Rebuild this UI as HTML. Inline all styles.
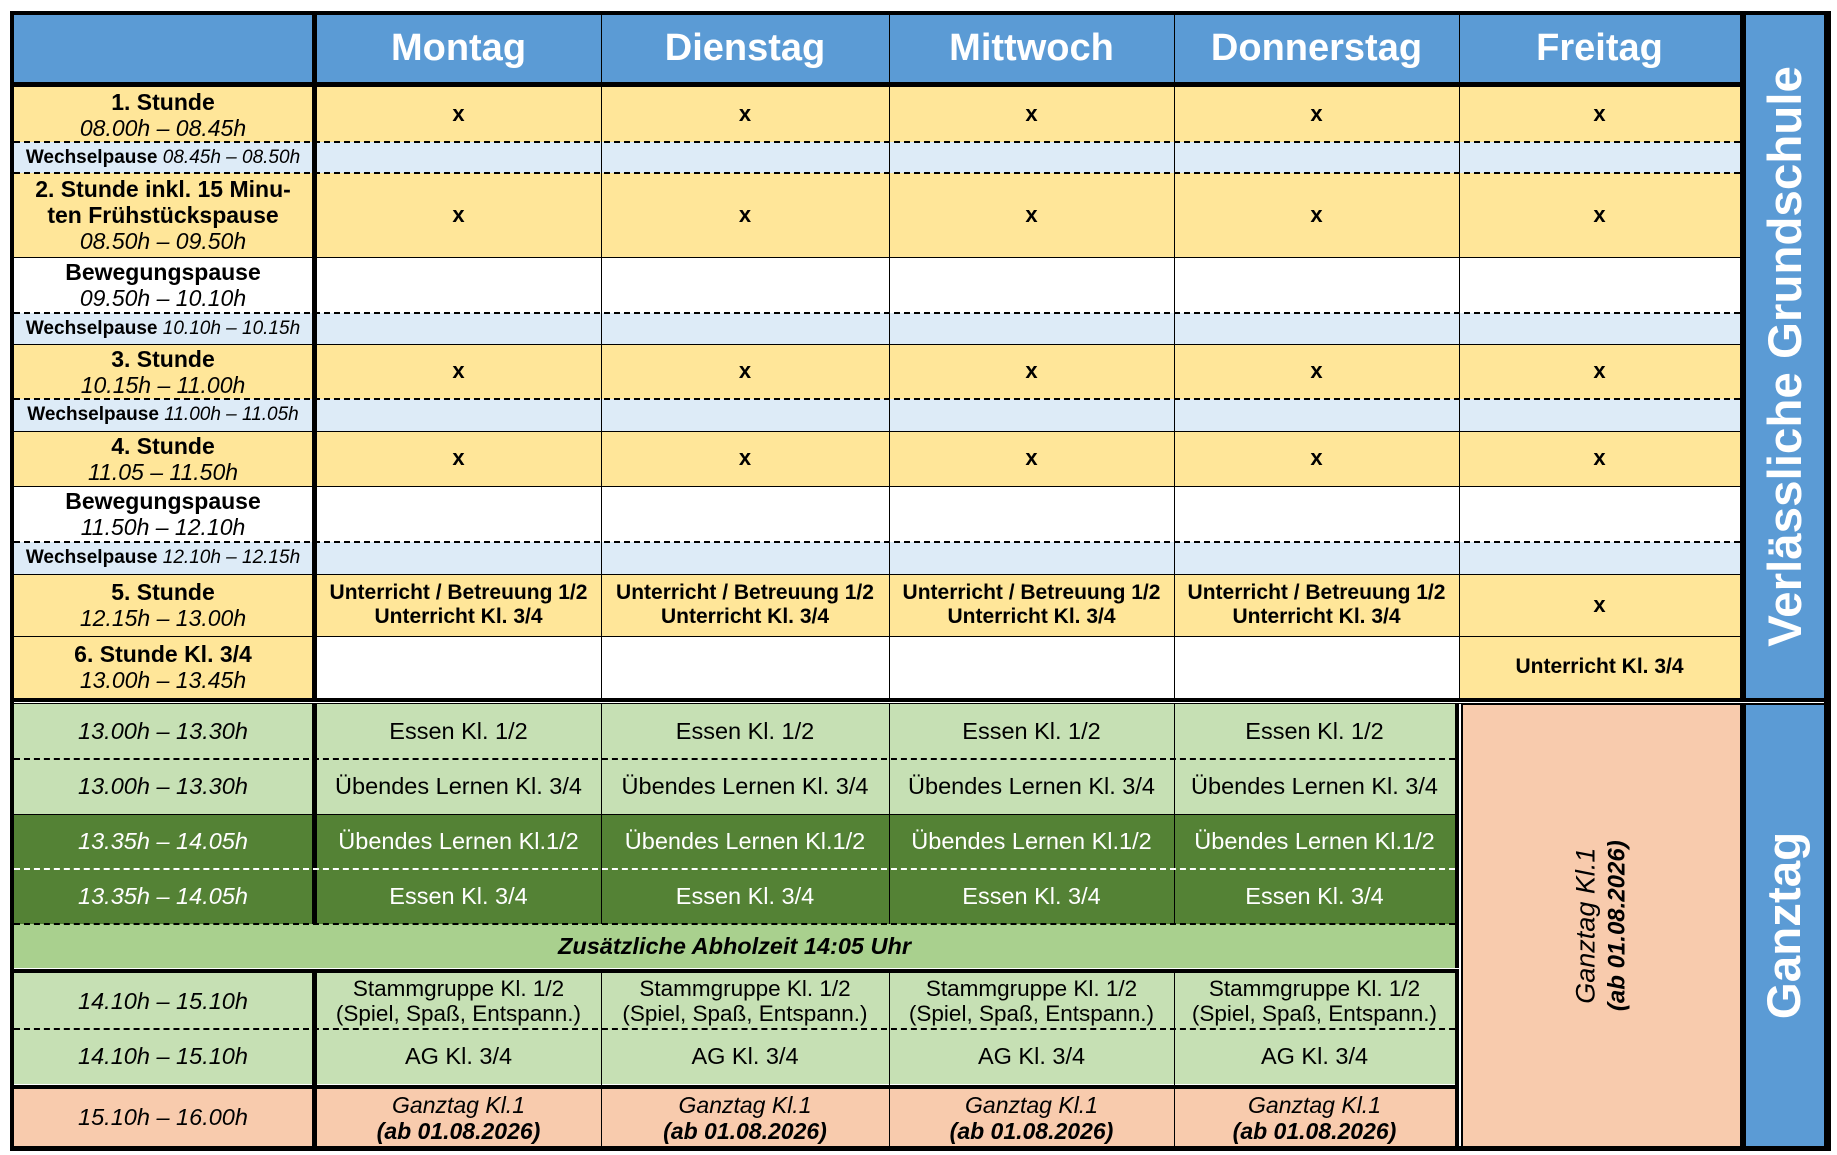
<!DOCTYPE html>
<html><head><meta charset="utf-8"><style>
*{margin:0;padding:0;box-sizing:border-box}
body{width:1837px;height:1155px;background:#fff;position:relative;overflow:hidden;font-family:"Liberation Sans",Arial,sans-serif;color:#000}
.a{position:absolute}
.c{position:absolute;display:flex;flex-direction:column;align-items:center;justify-content:center;text-align:center;line-height:1.13;white-space:nowrap}
.b{font-weight:bold}.i{font-style:italic}
.hd{color:#fff;font-weight:bold;font-size:38px}
.lb{font-size:23px}
.ws{font-size:19px}
.x{font-size:22px;font-weight:bold}
.g{font-size:23.5px}
.u{font-size:21px;font-weight:bold}
.dash{position:absolute;height:0;border-top:2px dashed #000}
.vl{position:absolute;width:1px;background:#000}
.hl{position:absolute;height:1px;background:#000}
.side{position:absolute;display:flex;align-items:center;justify-content:center;background:#5b9bd5}
.side span{transform:rotate(-90deg);color:#fff;font-weight:bold;font-size:47.5px;white-space:nowrap}
</style></head><body>
<div class="a" style="left:10px;top:11px;width:1821px;height:1140px;background:#000"></div>
<div class="a" style="left:14px;top:15px;width:1726px;height:67px;background:#5b9bd5"></div>
<div class="a" style="left:14px;top:87px;width:1726px;height:55px;background:#ffe699"></div>
<div class="a" style="left:14px;top:142px;width:1726px;height:31px;background:#ddebf7"></div>
<div class="a" style="left:14px;top:173px;width:1726px;height:84px;background:#ffe699"></div>
<div class="a" style="left:14px;top:257px;width:1726px;height:56px;background:#fff"></div>
<div class="a" style="left:14px;top:313px;width:1726px;height:31px;background:#ddebf7"></div>
<div class="a" style="left:14px;top:344px;width:1726px;height:55px;background:#ffe699"></div>
<div class="a" style="left:14px;top:399px;width:1726px;height:32px;background:#ddebf7"></div>
<div class="a" style="left:14px;top:431px;width:1726px;height:55px;background:#ffe699"></div>
<div class="a" style="left:14px;top:486px;width:1726px;height:56px;background:#fff"></div>
<div class="a" style="left:14px;top:542px;width:1726px;height:32px;background:#ddebf7"></div>
<div class="a" style="left:14px;top:574px;width:1726px;height:62px;background:#ffe699"></div>
<div class="a" style="left:14px;top:636px;width:1726px;height:62px;background:#fff"></div>
<div class="a" style="left:14px;top:636px;width:298px;height:62px;background:#ffe699"></div>
<div class="a" style="left:1459px;top:636px;width:281px;height:62px;background:#ffe699"></div>
<div class="a" style="left:14px;top:702px;width:1810px;height:1px;background:#fff"></div>
<div class="a" style="left:14px;top:704px;width:1445px;height:110px;background:#c6e0b4"></div>
<div class="a" style="left:14px;top:814px;width:1445px;height:110px;background:#548235"></div>
<div class="a" style="left:14px;top:924px;width:1445px;height:44px;background:#a9d08e"></div>
<div class="a" style="left:14px;top:968px;width:1445px;height:1px;background:#fff"></div>
<div class="a" style="left:14px;top:973px;width:1445px;height:111px;background:#c6e0b4"></div>
<div class="a" style="left:14px;top:1084px;width:1445px;height:1px;background:#fff"></div>
<div class="a" style="left:14px;top:1089px;width:1445px;height:57px;background:#f8cbad"></div>
<div class="a" style="left:1459px;top:704px;width:2px;height:442px;background:#fff"></div>
<div class="a" style="left:1463px;top:705px;width:277px;height:441px;background:#f8cbad"></div>
<div class="a" style="left:312px;top:15px;width:5px;height:683px;background:#000"></div>
<div class="a" style="left:312px;top:704px;width:5px;height:220px;background:#000"></div>
<div class="a" style="left:312px;top:973px;width:5px;height:173px;background:#000"></div>
<div class="a" style="left:1455px;top:704px;width:4px;height:264px;background:#000"></div>
<div class="a" style="left:1455px;top:973px;width:4px;height:173px;background:#000"></div>
<div class="a" style="left:14px;top:82px;width:1726px;height:5px;background:#000"></div>
<div class="vl" style="left:601px;top:15px;height:683px"></div>
<div class="vl" style="left:889px;top:15px;height:683px"></div>
<div class="vl" style="left:1174px;top:15px;height:683px"></div>
<div class="vl" style="left:1459px;top:15px;height:683px"></div>
<div class="vl" style="left:601px;top:704px;height:220px"></div>
<div class="vl" style="left:889px;top:704px;height:220px"></div>
<div class="vl" style="left:1174px;top:704px;height:220px"></div>
<div class="vl" style="left:601px;top:973px;height:173px"></div>
<div class="vl" style="left:889px;top:973px;height:173px"></div>
<div class="vl" style="left:1174px;top:973px;height:173px"></div>
<div class="hl" style="left:14px;top:257px;width:1726px"></div>
<div class="hl" style="left:14px;top:344px;width:1726px"></div>
<div class="hl" style="left:14px;top:431px;width:1726px"></div>
<div class="hl" style="left:14px;top:486px;width:1726px"></div>
<div class="hl" style="left:14px;top:574px;width:1726px"></div>
<div class="hl" style="left:14px;top:636px;width:1726px"></div>
<div class="hl" style="left:14px;top:814px;width:1445px"></div>
<div class="dash" style="left:14px;top:141px;width:1726px"></div>
<div class="dash" style="left:14px;top:172px;width:1726px"></div>
<div class="dash" style="left:14px;top:312px;width:1726px"></div>
<div class="dash" style="left:14px;top:398px;width:1726px"></div>
<div class="dash" style="left:14px;top:541px;width:1726px"></div>
<div class="dash" style="left:14px;top:758px;width:1441px"></div>
<div class="dash" style="left:14px;top:868px;width:1441px;border-color:#fff"></div>
<div class="dash" style="left:14px;top:923px;width:1441px"></div>
<div class="dash" style="left:14px;top:1028px;width:1441px"></div>
<div class="side" style="left:1746px;top:15px;width:78px;height:683px"><span>Verlässliche Grundschule</span></div>
<div class="side" style="left:1746px;top:705px;width:78px;height:441px"><span>Ganztag</span></div>

<div class="c hd" style="left:316px;top:15px;width:285px;height:67px">Montag</div>
<div class="c hd" style="left:601px;top:15px;width:288px;height:67px">Dienstag</div>
<div class="c hd" style="left:889px;top:15px;width:285px;height:67px">Mittwoch</div>
<div class="c hd" style="left:1174px;top:15px;width:285px;height:67px">Donnerstag</div>
<div class="c hd" style="left:1459px;top:15px;width:281px;height:67px">Freitag</div>

<div class="c lb" style="left:14px;top:87px;width:298px;height:55px"><b>1. Stunde</b><i>08.00h – 08.45h</i></div>
<div class="c ws" style="left:14px;top:142px;width:298px;height:31px"><span><b>Wechselpause</b> <i>08.45h – 08.50h</i></span></div>
<div class="c lb" style="left:14px;top:173px;width:298px;height:84px"><b>2. Stunde inkl. 15 Minu-</b><b>ten Frühstückspause</b><i>08.50h – 09.50h</i></div>
<div class="c lb" style="left:14px;top:257px;width:298px;height:56px"><b>Bewegungspause</b><i>09.50h – 10.10h</i></div>
<div class="c ws" style="left:14px;top:313px;width:298px;height:31px"><span><b>Wechselpause</b> <i>10.10h – 10.15h</i></span></div>
<div class="c lb" style="left:14px;top:344px;width:298px;height:55px"><b>3. Stunde</b><i>10.15h – 11.00h</i></div>
<div class="c ws" style="left:14px;top:399px;width:298px;height:32px"><span><b>Wechselpause</b> <i>11.00h – 11.05h</i></span></div>
<div class="c lb" style="left:14px;top:431px;width:298px;height:55px"><b>4. Stunde</b><i>11.05 – 11.50h</i></div>
<div class="c lb" style="left:14px;top:486px;width:298px;height:56px"><b>Bewegungspause</b><i>11.50h – 12.10h</i></div>
<div class="c ws" style="left:14px;top:542px;width:298px;height:32px"><span><b>Wechselpause</b> <i>12.10h – 12.15h</i></span></div>
<div class="c lb" style="left:14px;top:574px;width:298px;height:62px"><b>5. Stunde</b><i>12.15h – 13.00h</i></div>
<div class="c lb" style="left:14px;top:636px;width:298px;height:62px"><b>6. Stunde Kl. 3/4</b><i>13.00h – 13.45h</i></div>

<div class="c x" style="left:316px;top:87px;width:285px;height:55px">x</div>
<div class="c x" style="left:601px;top:87px;width:288px;height:55px">x</div>
<div class="c x" style="left:889px;top:87px;width:285px;height:55px">x</div>
<div class="c x" style="left:1174px;top:87px;width:285px;height:55px">x</div>
<div class="c x" style="left:1459px;top:87px;width:281px;height:55px">x</div>
<div class="c x" style="left:316px;top:173px;width:285px;height:84px">x</div>
<div class="c x" style="left:601px;top:173px;width:288px;height:84px">x</div>
<div class="c x" style="left:889px;top:173px;width:285px;height:84px">x</div>
<div class="c x" style="left:1174px;top:173px;width:285px;height:84px">x</div>
<div class="c x" style="left:1459px;top:173px;width:281px;height:84px">x</div>
<div class="c x" style="left:316px;top:344px;width:285px;height:55px">x</div>
<div class="c x" style="left:601px;top:344px;width:288px;height:55px">x</div>
<div class="c x" style="left:889px;top:344px;width:285px;height:55px">x</div>
<div class="c x" style="left:1174px;top:344px;width:285px;height:55px">x</div>
<div class="c x" style="left:1459px;top:344px;width:281px;height:55px">x</div>
<div class="c x" style="left:316px;top:431px;width:285px;height:55px">x</div>
<div class="c x" style="left:601px;top:431px;width:288px;height:55px">x</div>
<div class="c x" style="left:889px;top:431px;width:285px;height:55px">x</div>
<div class="c x" style="left:1174px;top:431px;width:285px;height:55px">x</div>
<div class="c x" style="left:1459px;top:431px;width:281px;height:55px">x</div>
<div class="c u" style="left:316px;top:574px;width:285px;height:62px"><span>Unterricht / Betreuung 1/2</span><span>Unterricht Kl. 3/4</span></div>
<div class="c u" style="left:601px;top:574px;width:288px;height:62px"><span>Unterricht / Betreuung 1/2</span><span>Unterricht Kl. 3/4</span></div>
<div class="c u" style="left:889px;top:574px;width:285px;height:62px"><span>Unterricht / Betreuung 1/2</span><span>Unterricht Kl. 3/4</span></div>
<div class="c u" style="left:1174px;top:574px;width:285px;height:62px"><span>Unterricht / Betreuung 1/2</span><span>Unterricht Kl. 3/4</span></div>
<div class="c x" style="left:1459px;top:574px;width:281px;height:62px">x</div>
<div class="c u" style="left:1459px;top:636px;width:281px;height:62px">Unterricht Kl. 3/4</div>

<div class="c g i" style="left:14px;top:704px;width:298px;height:55px">13.00h – 13.30h</div>
<div class="c g i" style="left:14px;top:759px;width:298px;height:55px">13.00h – 13.30h</div>
<div class="c g i" style="left:14px;top:814px;width:298px;height:55px;color:#fff">13.35h – 14.05h</div>
<div class="c g i" style="left:14px;top:869px;width:298px;height:55px;color:#fff">13.35h – 14.05h</div>
<div class="c g i" style="left:14px;top:973px;width:298px;height:56px">14.10h – 15.10h</div>
<div class="c g i" style="left:14px;top:1029px;width:298px;height:55px">14.10h – 15.10h</div>
<div class="c g i" style="left:14px;top:1089px;width:298px;height:57px">15.10h – 16.00h</div>
<div class="c b i" style="left:14px;top:924px;width:1441px;height:44px;font-size:23.5px">Zusätzliche Abholzeit 14:05 Uhr</div>

<div class="c g" style="left:316px;top:704px;width:285px;height:55px">Essen Kl. 1/2</div>
<div class="c g" style="left:601px;top:704px;width:288px;height:55px">Essen Kl. 1/2</div>
<div class="c g" style="left:889px;top:704px;width:285px;height:55px">Essen Kl. 1/2</div>
<div class="c g" style="left:1174px;top:704px;width:281px;height:55px">Essen Kl. 1/2</div>
<div class="c g" style="left:316px;top:759px;width:285px;height:55px">Übendes Lernen Kl. 3/4</div>
<div class="c g" style="left:601px;top:759px;width:288px;height:55px">Übendes Lernen Kl. 3/4</div>
<div class="c g" style="left:889px;top:759px;width:285px;height:55px">Übendes Lernen Kl. 3/4</div>
<div class="c g" style="left:1174px;top:759px;width:281px;height:55px">Übendes Lernen Kl. 3/4</div>
<div class="c g" style="left:316px;top:814px;width:285px;height:55px;color:#fff">Übendes Lernen Kl.1/2</div>
<div class="c g" style="left:601px;top:814px;width:288px;height:55px;color:#fff">Übendes Lernen Kl.1/2</div>
<div class="c g" style="left:889px;top:814px;width:285px;height:55px;color:#fff">Übendes Lernen Kl.1/2</div>
<div class="c g" style="left:1174px;top:814px;width:281px;height:55px;color:#fff">Übendes Lernen Kl.1/2</div>
<div class="c g" style="left:316px;top:869px;width:285px;height:55px;color:#fff">Essen Kl. 3/4</div>
<div class="c g" style="left:601px;top:869px;width:288px;height:55px;color:#fff">Essen Kl. 3/4</div>
<div class="c g" style="left:889px;top:869px;width:285px;height:55px;color:#fff">Essen Kl. 3/4</div>
<div class="c g" style="left:1174px;top:869px;width:281px;height:55px;color:#fff">Essen Kl. 3/4</div>
<div class="c g" style="left:316px;top:973px;width:285px;height:56px;font-size:22.5px"><span>Stammgruppe Kl. 1/2</span><span>(Spiel, Spaß, Entspann.)</span></div>
<div class="c g" style="left:601px;top:973px;width:288px;height:56px;font-size:22.5px"><span>Stammgruppe Kl. 1/2</span><span>(Spiel, Spaß, Entspann.)</span></div>
<div class="c g" style="left:889px;top:973px;width:285px;height:56px;font-size:22.5px"><span>Stammgruppe Kl. 1/2</span><span>(Spiel, Spaß, Entspann.)</span></div>
<div class="c g" style="left:1174px;top:973px;width:281px;height:56px;font-size:22.5px"><span>Stammgruppe Kl. 1/2</span><span>(Spiel, Spaß, Entspann.)</span></div>
<div class="c g" style="left:316px;top:1029px;width:285px;height:55px">AG Kl. 3/4</div>
<div class="c g" style="left:601px;top:1029px;width:288px;height:55px">AG Kl. 3/4</div>
<div class="c g" style="left:889px;top:1029px;width:285px;height:55px">AG Kl. 3/4</div>
<div class="c g" style="left:1174px;top:1029px;width:281px;height:55px">AG Kl. 3/4</div>
<div class="c" style="left:316px;top:1089px;width:285px;height:57px;font-size:23px"><i>Ganztag Kl.1</i><b><i>(ab 01.08.2026)</i></b></div>
<div class="c" style="left:601px;top:1089px;width:288px;height:57px;font-size:23px"><i>Ganztag Kl.1</i><b><i>(ab 01.08.2026)</i></b></div>
<div class="c" style="left:889px;top:1089px;width:285px;height:57px;font-size:23px"><i>Ganztag Kl.1</i><b><i>(ab 01.08.2026)</i></b></div>
<div class="c" style="left:1174px;top:1089px;width:281px;height:57px;font-size:23px"><i>Ganztag Kl.1</i><b><i>(ab 01.08.2026)</i></b></div>
<div class="c" style="left:1463px;top:705px;width:277px;height:441px"><div style="transform:rotate(-90deg);display:flex;flex-direction:column;align-items:center;font-size:27px;line-height:1.1;white-space:nowrap"><i>Ganztag Kl.1</i><b><i style="font-size:24px">(ab 01.08.2026)</i></b></div></div>
</body></html>
